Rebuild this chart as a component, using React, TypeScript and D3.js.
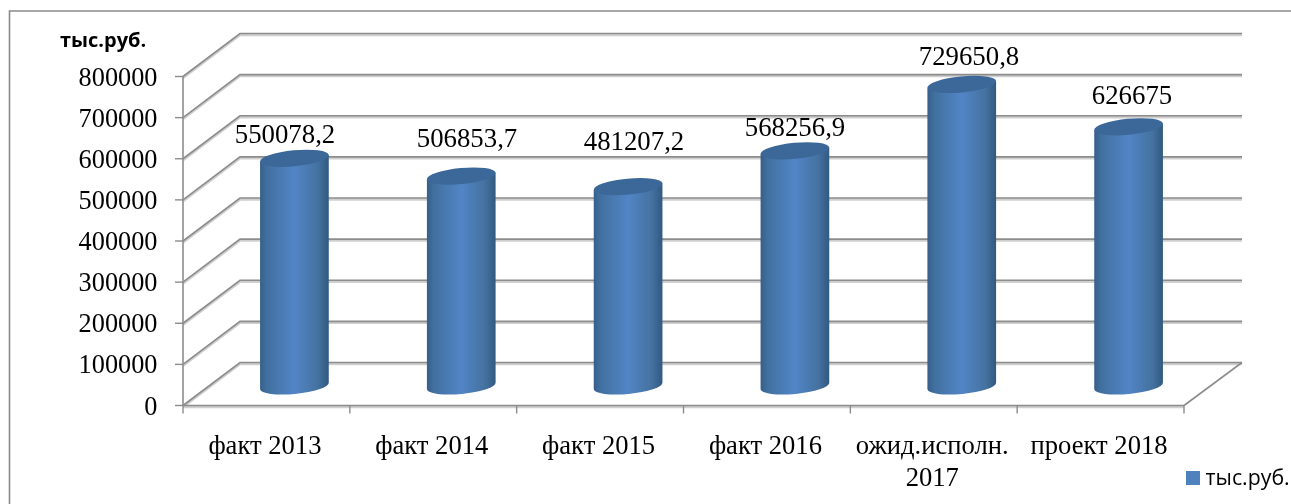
import React from 'react';
import * as d3 from 'd3';

const categories = [['факт 2013'], ['факт 2014'], ['факт 2015'], ['факт 2016'], ['ожид.исполн.', '2017'], ['проект 2018']];
const values = [550078.2, 506853.7, 481207.2, 568256.9, 729650.8, 626675];
const valueLabels = ['550078,2', '506853,7', '481207,2', '568256,9', '729650,8', '626675'];
const yTicks = [0, 100000, 200000, 300000, 400000, 500000, 600000, 700000, 800000];
const legendLabel = 'тыс.руб.';

// the data labels were dragged by hand in the original, so they sit on their own anchors
const labelAnchorX = [285, 467, 634, 795, 969, 1132];
const labelBaseline = [143, 147, 150, 136, 65, 104];

const width = 1291;
const height = 504;
const serif = '"Liberation Serif", serif';
const sans = '"Open Sans", sans-serif';

// front plane of the 3d box, the back wall is shifted by depth
const x = d3.scaleBand<number>().domain(d3.range(categories.length)).range([183, 1184]);
const y = d3.scaleLinear().domain([0, 800000]).range([405.5, 76.5]);
const depth = { dx: 57, dy: -43 };

const rx = 34.5;
const ry = 8;
const tilt = -5.5;
const tiltRad = (tilt * Math.PI) / 180;
const ex = rx * Math.cos(tiltRad);
const ey = rx * Math.sin(tiltRad);
const baseY = 386;
const barHeightZero = 384.5;

const gridColor = '#8c8c8c';

// cylinder wall between base and top ellipse
const bodyPath = (cx: number, top: number, base: number) => {
  const p = d3.path();
  p.moveTo(cx - ex, top - ey);
  p.lineTo(cx - ex, base - ey);
  const arc = `A${rx},${ry} ${tilt} 0 0 ${cx + ex},${base + ey}`;
  return `${p.toString()}${arc}L${cx + ex},${top + ey}Z`;
};

export default function App() {
  const tickX = [...x.domain().map((d) => x(d) as number), 1184];
  return (
    <svg width={width} height={height} style={{ position: 'absolute', left: 0, top: 0, background: '#fff' }}>
      <defs>
        <linearGradient id="cyl" x1="0" x2="1" y1="0" y2="0">
          <stop offset="0" stopColor="#375f8a" />
          <stop offset="0.1" stopColor="#41709f" />
          <stop offset="0.5" stopColor="#5285c6" />
          <stop offset="0.85" stopColor="#44719f" />
          <stop offset="1" stopColor="#30597f" />
        </linearGradient>
        <filter id="soft" x="-5%" y="-5%" width="110%" height="110%">
          <feGaussianBlur stdDeviation="0.6" />
        </filter>
      </defs>

      {/* outer frame, only left and top edges are in the crop */}
      <path d={`M9.5,${height}V11H${width}`} fill="none" stroke="#8a8a8a" strokeWidth={1.6} />

      {/* grid */}
      <g filter="url(#soft)">
        {yTicks.map((t) => (
          <g key={t}>
            <path
              d={`M183,${y(t) + 1.5}l${depth.dx},${depth.dy}H1242`}
              fill="none"
              stroke="#cfcfcf"
              strokeWidth={2.4}
            />
            <path d={`M183,${y(t)}l${depth.dx},${depth.dy}H1242`} fill="none" stroke={gridColor} strokeWidth={1.6} />
            <line x1={175} x2={183} y1={y(t)} y2={y(t)} stroke={gridColor} strokeWidth={1.4} />
          </g>
        ))}
        <line x1={183} x2={183} y1={y(800000)} y2={y(0)} stroke={gridColor} strokeWidth={1.6} />
        <line x1={183} x2={1184} y1={y(0) + 1.5} y2={y(0) + 1.5} stroke="#cfcfcf" strokeWidth={2.4} />
        <line x1={183} x2={1184} y1={y(0)} y2={y(0)} stroke={gridColor} strokeWidth={1.6} />
        <line x1={1184} x2={1242} y1={y(0)} y2={y(0) + depth.dy} stroke={gridColor} strokeWidth={1.6} />
        {tickX.map((tx) => (
          <line key={tx} x1={tx} x2={tx} y1={y(0)} y2={y(0) + 8} stroke={gridColor} strokeWidth={1.4} />
        ))}
      </g>

      {/* cylinders */}
      <g filter="url(#soft)">
        {values.map((v, i) => {
          const cx = (x(i) as number) + x.bandwidth() / 2 + depth.dx / 2 - 0.5;
          const top = barHeightZero - (y(0) - y(v));
          return (
            <g key={i}>
              <path d={bodyPath(cx, top, baseY)} fill="url(#cyl)" />
              <ellipse cx={cx} cy={top} rx={rx} ry={ry} transform={`rotate(${tilt} ${cx} ${top})`} fill="#3b6798" />
            </g>
          );
        })}
      </g>

      {/* axis text */}
      <g filter="url(#soft)" fontFamily={serif} fill="#000">
        {yTicks.map((t) => (
          <text key={t} x={157.5} y={y(t) + 9} textAnchor="end" fontSize={26.3}>
            {t}
          </text>
        ))}
        {categories.map((lines, i) =>
          lines.map((line, j) => (
            <text
              key={line}
              x={(x(i) as number) + x.bandwidth() / 2 - 1.5}
              y={454 + j * 32}
              textAnchor="middle"
              fontSize={26.6}
            >
              {line}
            </text>
          )),
        )}
        {valueLabels.map((label, i) => (
          <text key={label} x={labelAnchorX[i]} y={labelBaseline[i]} textAnchor="middle" fontSize={26.8}>
            {label}
          </text>
        ))}
      </g>

      {/* unit label and legend */}
      <g filter="url(#soft)" fontFamily={sans} fill="#000">
        <text x={60} y={47} fontSize={20} fontWeight={700}>
          {legendLabel}
        </text>
        <rect x={1186} y={471} width={14} height={14} fill="#4f81bd" />
        <text x={1205.5} y={485} fontSize={21.3}>
          {legendLabel}
        </text>
      </g>
    </svg>
  );
}
